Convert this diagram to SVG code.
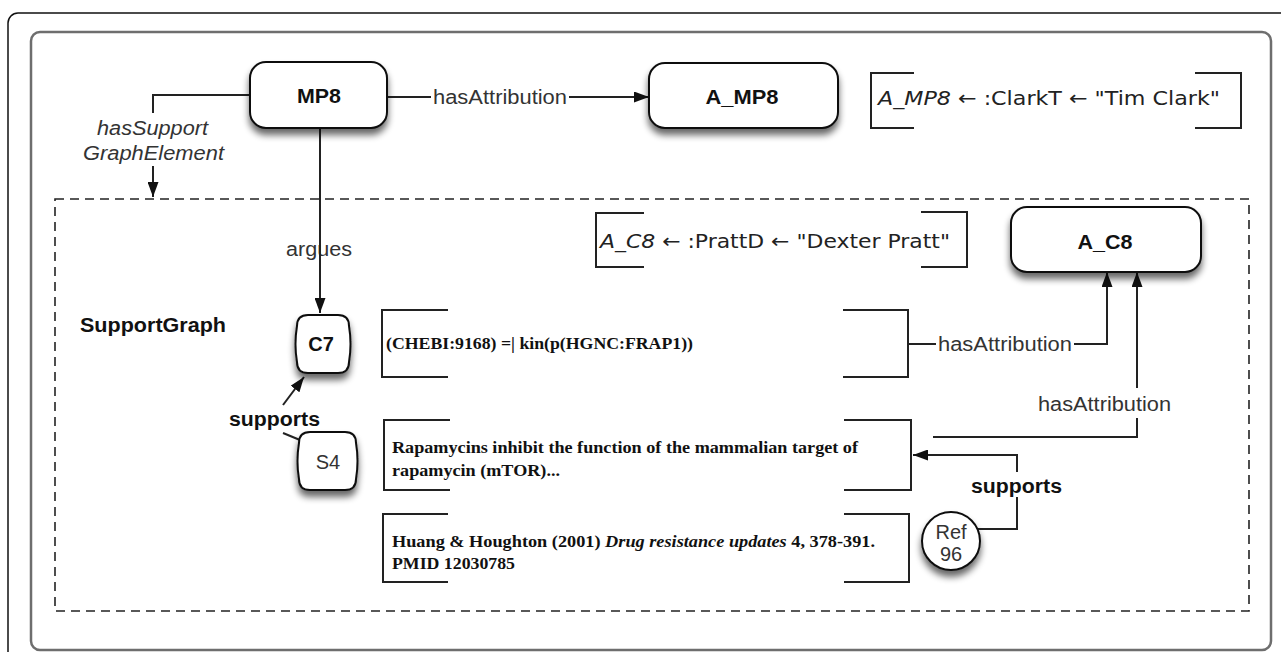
<svg xmlns="http://www.w3.org/2000/svg" width="1281" height="652" viewBox="0 0 1281 652">
<defs>
<style>
.node{fill:#fff;stroke:#111;stroke-width:2}
.lbl{font-family:"Liberation Sans",Arial,sans-serif;font-size:20px;fill:#333}
.b{font-weight:bold;fill:#111}
.it{font-style:italic}
.conn{fill:none;stroke:#222;stroke-width:2}
.brk{fill:none;stroke:#222;stroke-width:2}
.serif{font-family:"Liberation Serif","Times New Roman",serif;font-weight:bold;font-size:17px;fill:#111}
.ann{font-family:"DejaVu Sans",sans-serif;font-size:20px;fill:#222}
</style>
<marker id="ah" viewBox="0 0 15 11" refX="15" refY="5.5" markerWidth="15" markerHeight="11" markerUnits="userSpaceOnUse" orient="auto"><path d="M0,0 L15,5.5 L0,11 Z" fill="#111"/></marker>
<filter id="sh" x="-30%" y="-30%" width="160%" height="180%">
<feGaussianBlur in="SourceAlpha" stdDeviation="3.5"/>
<feOffset dy="6"/>
<feComponentTransfer><feFuncA type="linear" slope="0.6"/></feComponentTransfer>
<feMerge><feMergeNode/><feMergeNode in="SourceGraphic"/></feMerge>
</filter>
</defs>
<rect width="1281" height="652" fill="#fff"/>
<g id="frames">
<rect x="8" y="13" width="1300" height="670" rx="10" fill="none" stroke="#111" stroke-width="1.5"/>
<rect x="31" y="32" width="1240" height="618" rx="9" fill="none" stroke="#6e6e6e" stroke-width="2.5"/>
<rect x="55" y="199" width="1194" height="412" fill="none" stroke="#222" stroke-width="1.6" stroke-dasharray="9,6"/>
</g>
<g id="connectors">
<path class="conn" d="M250,95 H153 V113"/>
<path class="conn" d="M153,166 V197" marker-end="url(#ah)"/>
<path class="conn" d="M387,97 H431"/>
<path class="conn" d="M569,97 H649" marker-end="url(#ah)"/>
<path class="conn" d="M908,344 H936"/>
<path class="conn" d="M1074,344 H1107 V272" marker-end="url(#ah)"/>
<path class="conn" d="M933,437 H1137 V418"/>
<path class="conn" d="M1137,388 V272" marker-end="url(#ah)"/>
<path class="conn" d="M978,529 H1017 V497"/>
<path class="conn" d="M1017,472 V455 H913" marker-end="url(#ah)"/>
<path class="conn" d="M283,405 L304,377" marker-end="url(#ah)"/>
<path class="conn" d="M283,433 L300,440"/>
</g>
<g id="edge-labels">
<text class="lbl it" x="97" y="135" textLength="111" lengthAdjust="spacingAndGlyphs">hasSupport</text>
<text class="lbl it" x="83" y="160" textLength="141" lengthAdjust="spacingAndGlyphs">GraphElement</text>
<text class="lbl" x="433" y="104" textLength="134" lengthAdjust="spacingAndGlyphs">hasAttribution</text>
<text class="lbl" x="286" y="256" textLength="66" lengthAdjust="spacingAndGlyphs">argues</text>
<text class="lbl" x="938" y="351" textLength="134" lengthAdjust="spacingAndGlyphs">hasAttribution</text>
<text class="lbl" x="1038" y="411" textLength="133" lengthAdjust="spacingAndGlyphs">hasAttribution</text>
<text class="lbl b" x="229" y="426" textLength="91" lengthAdjust="spacingAndGlyphs">supports</text>
<text class="lbl b" x="971" y="493" textLength="91" lengthAdjust="spacingAndGlyphs">supports</text>
</g>
<path class="conn" d="M320,128 V313" marker-end="url(#ah)"/>
<g id="MP8">
<rect class="node" x="250" y="62" width="137" height="66" rx="16" filter="url(#sh)"/>
<text class="lbl b" x="319" y="103" text-anchor="middle" textLength="44" lengthAdjust="spacingAndGlyphs">MP8</text>
</g>
<g id="A_MP8">
<rect class="node" x="649" y="63" width="189" height="65" rx="16" filter="url(#sh)"/>
<text class="lbl b" x="742" y="104" text-anchor="middle" textLength="73" lengthAdjust="spacingAndGlyphs">A_MP8</text>
</g>
<g id="ClarkT">
<path class="brk" d="M914,73 H871 V128 H914 M1195,73 H1241 V128 H1195"/>
<text class="ann" x="878" y="105" textLength="342" lengthAdjust="spacingAndGlyphs"><tspan font-style="italic">A_MP8</tspan> ← :ClarkT ← "Tim Clark"</text>
</g>
<g id="SupportGraphLabel">
<text class="lbl b" x="80" y="332" textLength="146" lengthAdjust="spacingAndGlyphs">SupportGraph</text>
</g>
<g id="PrattD">
<path class="brk" d="M644,213 H596 V267 H644 M921,212 H967 V267 H921"/>
<text class="ann" x="600" y="248" textLength="350" lengthAdjust="spacingAndGlyphs"><tspan font-style="italic">A_C8</tspan> ← :PrattD ← "Dexter Pratt"</text>
</g>
<g id="A_C8">
<rect class="node" x="1011" y="207" width="190" height="65" rx="16" filter="url(#sh)"/>
<text class="lbl b" x="1105" y="249" text-anchor="middle" textLength="55" lengthAdjust="spacingAndGlyphs">A_C8</text>
</g>
<g id="C7">
<path class="node" filter="url(#sh)" d="M308,315 H338 Q349,315 349,326 Q352,344 349,362 Q349,373 338,373 H308 Q297,373 297,362 Q294,344 297,326 Q297,315 308,315 Z"/>
<text class="lbl b" x="321" y="351" text-anchor="middle" font-size="16">C7</text>
</g>
<g id="S4">
<path class="node" filter="url(#sh)" d="M310,432 H345 Q356,432 356,443 Q359,461 356,479 Q356,490 345,490 H310 Q299,490 299,479 Q296,461 299,443 Q299,432 310,432 Z"/>
<text class="lbl" x="328" y="469" text-anchor="middle" font-size="16">S4</text>
</g>
<g id="CHEBI">
<path class="brk" d="M448,310 H382 V377 H448 M843,310 H908 V377 H843"/>
<text class="serif" x="386" y="349" textLength="307" lengthAdjust="spacingAndGlyphs">(CHEBI:9168) =| kin(p(HGNC:FRAP1))</text>
</g>
<g id="Rapamycin">
<path class="brk" d="M450,420 H384 V490 H450 M844,420 H911 V490 H844"/>
<text class="serif" x="392" y="453" textLength="466" lengthAdjust="spacingAndGlyphs">Rapamycins inhibit the function of the mammalian target of</text>
<text class="serif" x="392" y="476" textLength="168" lengthAdjust="spacingAndGlyphs">rapamycin (mTOR)...</text>
</g>
<g id="Huang">
<path class="brk" d="M448,514 H383 V582 H448 M844,514 H909 V582 H844"/>
<text class="serif" x="392" y="547" textLength="483" lengthAdjust="spacingAndGlyphs">Huang &amp; Houghton (2001) <tspan font-style="italic">Drug resistance updates</tspan> 4, 378-391.</text>
<text class="serif" x="392" y="569" textLength="123" lengthAdjust="spacingAndGlyphs">PMID 12030785</text>
</g>
<g id="Ref96">
<circle class="node" cx="951" cy="541" r="29" filter="url(#sh)"/>
<text class="lbl" x="951" y="539" text-anchor="middle" font-size="17" fill="#444">Ref</text>
<text class="lbl" x="951" y="561" text-anchor="middle" font-size="17" fill="#444">96</text>
</g>
</svg>
